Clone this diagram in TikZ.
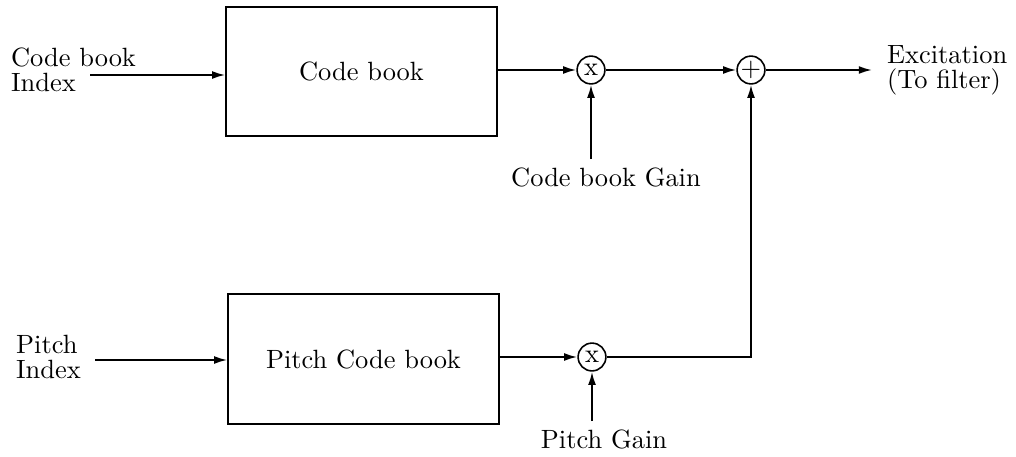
\documentclass[tikz,border=0pt]{standalone}
\usetikzlibrary{arrows.meta}

\tikzset{
  block/.style={draw, line width=0.7pt, minimum width=3.6cm, minimum height=1.72cm},
  junction/.style={draw, circle, line width=0.6pt, minimum size=0.37cm, inner sep=0pt},
  lbl/.style={align=left, inner sep=1pt, font=\fontsize{10pt}{9.4pt}\selectfont},
  sig/.style={line width=0.7pt, -{Latex[length=5pt,width=3pt]}},
}

\begin{document}
\begin{tikzpicture}[x=0.0133cm, y=-0.0133cm]
  \useasboundingbox (0,0) rectangle (1016,457);
  % code books
  \node[block] (cb) at (361.5,71.5) {Code book};
  \node[block] (pcb) at (363.5,359) {Pitch Code book};
  % gains and sum
  \node[junction] (cbx) at (591,70) {x};
  \node[junction] (pcx) at (592,357) {x};
  \node[junction] (add) at (751,70) {$+$};
  % inputs and output
  \node[lbl, anchor=west] (cbi) at (8,70) {Code book\\Index};
  \coordinate (cbin) at (90,75);
  \node[lbl, anchor=west] (pi) at (13,357) {Pitch\\Index};
  \coordinate (pin) at (95,360);
  \node[lbl, anchor=west] (exc) at (884,70) {Excitation\\(To filter)};
  \coordinate (out) at (872,70);
  \node[lbl, inner sep=3pt, anchor=north] (cbg) at (606,159) {Code book Gain};
  \node[lbl, inner sep=3pt, anchor=north] (pg) at (604,421) {Pitch Gain};
  % signal paths
  \draw[sig] (cbin) -- (cbin -| cb.west);
  \draw[sig] (cb.east |- cbx) -- (cbx);
  \draw[sig] (cbx) -- (add);
  \draw[sig] (add) -- (out);
  \draw[sig] (pin) -- (pin -| pcb.west);
  \draw[sig] (pcb.east |- pcx) -- (pcx);
  \draw[sig] (pcx) -- (pcx -| add) -- (add);
  \draw[sig] (cbg.north -| cbx) -- (cbx);
  \draw[sig] (pg.north -| pcx) -- (pcx);
\end{tikzpicture}
\end{document}
